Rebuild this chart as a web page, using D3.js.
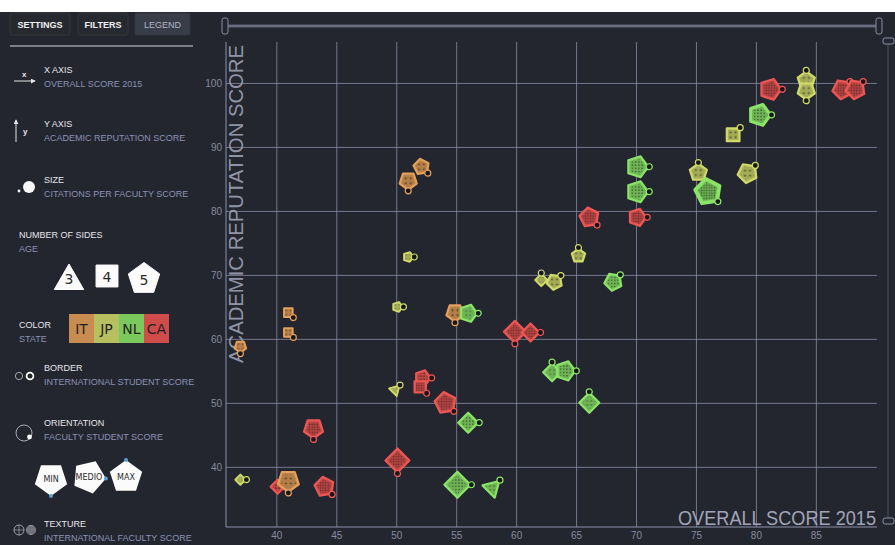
<!DOCTYPE html>
<html>
<head>
<meta charset="utf-8">
<script src="https://cdnjs.cloudflare.com/ajax/libs/d3/7.8.5/d3.min.js"></script>
<style>
  html, body { margin: 0; padding: 0; background: #ffffff; }
  svg { display: block; font-family: "Liberation Sans", Arial, sans-serif; }
</style>
</head>
<body>
<div id="chart"></div>
<script>
// ############## data ##############
var states = ['IT', 'JP', 'NL', 'CA'];
var stateColors = ['#c98c50', '#b7c05e', '#7bc95c', '#d04c4a'];

var overallScore   = [51.0, 52.1, 51.0, 50.1, 41.0, 41.0, 37.0, 54.9, 56.0, 52.2, 52.0, 49.9, 54.1, 56.0, 43.1,
                      50.1, 37.0, 40.1, 41.0, 44.0, 55.1, 59.9, 61.2, 63.0, 64.1, 66.1, 58.0, 62.1, 63.2, 65.2,
                      68.1, 66.1, 70.1, 70.1, 70.1, 75.2, 76.0, 79.3, 78.1, 80.3, 81.2, 84.2, 84.2, 87.2, 88.3];
var academicScore  = [84.7, 86.9, 72.8, 65.0, 64.1, 61.0, 58.8, 64.1, 64.0, 53.9, 52.5, 52.0, 50.0, 46.9, 46.0,
                      41.0, 38.0, 36.9, 37.8, 36.9, 37.2, 61.1, 61.0, 54.8, 55.0, 50.0, 36.7, 69.2, 68.9, 73.0,
                      68.9, 79.0, 79.0, 83.0, 86.9, 86.0, 83.0, 85.9, 91.9, 95.0, 99.0, 100.4, 98.8, 99.0, 99.0];
var ageSides       = [5, 5, 5, 5, 4, 4, 5, 5, 5, 5, 4, 3, 5, 4, 5,
                      4, 4, 4, 5, 5, 4, 4, 4, 4, 5, 4, 3, 4, 5, 5,
                      5, 5, 5, 5, 5, 5, 5, 5, 4, 5, 5, 5, 5, 5, 5];
var stateOf        = ['IT', 'IT', 'JP', 'JP', 'IT', 'IT', 'IT', 'IT', 'NL', 'CA', 'CA', 'JP', 'CA', 'NL', 'CA',
                      'CA', 'JP', 'CA', 'IT', 'CA', 'NL', 'CA', 'CA', 'NL', 'NL', 'NL', 'NL', 'JP', 'JP', 'JP',
                      'NL', 'CA', 'CA', 'NL', 'NL', 'JP', 'NL', 'JP', 'JP', 'NL', 'CA', 'JP', 'JP', 'CA', 'CA'];
var citationsScore = [50, 40, 10, 10, 20, 20, 20, 50, 50, 40, 40, 20, 70, 60, 60,
                      80, 10, 30, 70, 60, 90, 70, 50, 50, 60, 60, 60, 20, 40, 30,
                      50, 60, 50, 70, 70, 50, 90, 60, 50, 70, 70, 50, 50, 60, 60];
var facultyStudent = [0, 25, 50, 50, 25, 25, 0, 0, 50, 50, 25, 75, 25, 50, 0,
                      0, 50, 50, 0, 25, 50, 0, 50, 100, 50, 100, 75, 100, 75, 100,
                      75, 25, 50, 50, 50, 100, 25, 75, 75, 50, 50, 100, 0, 75, 75];
var intlStudent    = [40, 40, 40, 40, 40, 40, 40, 40, 40, 40, 40, 40, 40, 40, 40,
                      40, 40, 40, 40, 40, 45, 40, 40, 40, 40, 40, 40, 40, 40, 40,
                      40, 40, 40, 40, 40, 40, 95, 40, 40, 70, 40, 40, 40, 40, 40];
var intlFaculty    = [20, 20, 20, 20, 20, 20, 20, 25, 50, 60, 80, 20, 90, 60, 80,
                      90, 20, 60, 25, 85, 70, 85, 85, 50, 60, 40, 40, 20, 20, 20,
                      70, 80, 80, 60, 60, 25, 90, 25, 25, 75, 85, 25, 25, 85, 85];

var xTicks = [40, 45, 50, 55, 60, 65, 70, 75, 80, 85];
var yTicks = [40, 50, 60, 70, 80, 90, 100];

var attrs = {
  width: 895,
  height: 545,
  bg: '#24262f',
  plotLeft: 226,
  plotRight: 877,
  plotTop: 42,
  plotBottom: 527,
  gridColor: '#8d91aa',
  titleColor: '#e4e5ea',
  subColor: '#8b91b3',
  font: '"Liberation Sans", Arial, sans-serif'
};

var points = overallScore.map(function(d, i) {
  return {
    overall: d,
    academic: academicScore[i],
    sides: ageSides[i],
    state: stateOf[i],
    citations: citationsScore[i],
    faculty: facultyStudent[i],
    student: intlStudent[i],
    intlFac: intlFaculty[i]
  };
});

// ############## scales ##############
var x = d3.scaleLinear().domain([35.8, 90.1]).range([attrs.plotLeft, attrs.plotRight]);
var y = d3.scaleLinear().domain([30.6, 106.4]).range([attrs.plotBottom, attrs.plotTop]);
var color = d3.scaleOrdinal().domain(states).range(stateColors);
var radius = d3.scaleLinear().domain([0, 100]).range([4, 14]);
var angle = d3.scaleLinear().domain([0, 100]).range([180, 0]);       // min = bottom, max = top
var border = d3.scaleLinear().domain([0, 100]).range([1, 3.8]);
var spacing = d3.scaleQuantize().domain([0, 100]).range([6, 5, 4, 3.2, 2.6]);

var svg = d3.select('#chart').append('svg')
  .attr('width', attrs.width)
  .attr('height', attrs.height);

svg.append('rect').attr('width', attrs.width).attr('height', attrs.height).attr('fill', '#ffffff');
svg.append('rect').attr('y', 12).attr('width', attrs.width).attr('height', attrs.height - 12).attr('fill', attrs.bg);

var defs = svg.append('defs');

// polygon helper: vertex 0 sits at `a` degrees (clockwise from top)
function polyPoints(n, r, a) {
  var pts = [];
  for (var k = 0; k < n; k++) {
    var t = (a + k * 360 / n) * Math.PI / 180;
    pts.push([r * Math.sin(t), -r * Math.cos(t)]);
  }
  return pts;
}
function polyString(n, r, a) {
  return polyPoints(n, r, a).map(function(p) { return p[0].toFixed(2) + ',' + p[1].toFixed(2); }).join(' ');
}

// texture patterns
spacing.range().forEach(function(s, i) {
  var p = defs.append('pattern')
    .attr('id', 'tex' + i)
    .attr('width', s).attr('height', s)
    .attr('patternUnits', 'userSpaceOnUse');
  p.append('circle').attr('cx', s / 2).attr('cy', s / 2).attr('r', s > 4 ? 1.1 : 0.8).attr('fill', 'rgba(20,20,25,0.55)');
});

// ############## slider controls ##############
var ctrl = svg.append('g').attr('stroke', '#8a8ea6').attr('fill', attrs.bg);
ctrl.append('line').attr('x1', 227).attr('x2', 880).attr('y1', 26).attr('y2', 26).attr('stroke-width', 2.5);
ctrl.append('line').attr('x1', 227).attr('x2', 880).attr('y1', 26).attr('y2', 26).attr('stroke', attrs.bg).attr('stroke-width', 0.6);
[225, 879].forEach(function(hx) {
  ctrl.append('rect').attr('x', hx - 3).attr('y', 18).attr('width', 6).attr('height', 16).attr('rx', 2);
});
ctrl.append('line').attr('x1', 888).attr('x2', 888).attr('y1', 44).attr('y2', 520).attr('stroke-width', 0.8).attr('opacity', 0.5);
[38, 518].forEach(function(hy) {
  ctrl.append('rect').attr('x', 883).attr('y', hy).attr('width', 11).attr('height', 6).attr('rx', 2);
});

// ############## grid + axes ##############
var plot = svg.append('g');

var xAxis = plot.append('g')
  .attr('transform', 'translate(0,' + attrs.plotBottom + ')')
  .call(d3.axisBottom(x).tickValues(xTicks).tickSize(-(attrs.plotBottom - attrs.plotTop)).tickPadding(5));
var yAxis = plot.append('g')
  .attr('transform', 'translate(' + attrs.plotLeft + ',0)')
  .call(d3.axisLeft(y).tickValues(yTicks).tickSize(-(attrs.plotRight - attrs.plotLeft)).tickPadding(4));

[xAxis, yAxis].forEach(function(ax) {
  ax.select('.domain').attr('stroke', attrs.gridColor).attr('stroke-width', 1);
  ax.selectAll('.tick line').attr('stroke', attrs.gridColor).attr('stroke-opacity', 0.75);
  ax.selectAll('.tick text').attr('fill', '#878aa0').attr('font-size', 10).attr('font-family', attrs.font);
});
yAxis.select('.domain').attr('d', 'M0,' + attrs.plotTop + 'V' + attrs.plotBottom);
xAxis.select('.domain').attr('d', 'M' + attrs.plotLeft + ',0H' + attrs.plotRight);

// axis titles
plot.append('text')
  .attr('transform', 'translate(243,363) rotate(-90)')
  .attr('font-size', 20)
  .attr('textLength', 318)
  .attr('lengthAdjust', 'spacingAndGlyphs')
  .attr('fill', '#a0a4b8')
  .attr('fill-opacity', 0.9)
  .text('ACADEMIC REPUTATION SCORE');

plot.append('text')
  .attr('x', 876).attr('y', 525)
  .attr('text-anchor', 'end')
  .attr('font-size', 20)
  .attr('textLength', 198)
  .attr('lengthAdjust', 'spacingAndGlyphs')
  .attr('fill', '#a0a4b8')
  .text('OVERALL SCORE 2015');

// ############## marks ##############
var marks = plot.append('g').selectAll('g.mark').data(points).enter().append('g')
  .attr('class', 'mark')
  .attr('transform', function(d) { return 'translate(' + x(d.overall) + ',' + y(d.academic) + ')'; });

marks.append('polygon')
  .attr('points', function(d) { return polyString(d.sides, radius(d.citations), angle(d.faculty)); })
  .attr('fill', function(d) { return color(d.state); })
  .attr('fill-opacity', 0.92)
  .attr('stroke', function(d) { return d3.color(color(d.state)).brighter(0.35); })
  .attr('stroke-width', function(d) { return border(d.student); })
  .attr('stroke-linejoin', 'round');

marks.append('polygon')
  .attr('points', function(d) { return polyString(d.sides, radius(d.citations) * 0.74, angle(d.faculty)); })
  .attr('fill', function(d) { return d3.color(color(d.state)).darker(0.4); })
  .attr('fill-opacity', 0.6);

marks.append('polygon')
  .attr('points', function(d) { return polyString(d.sides, radius(d.citations) * 0.74, angle(d.faculty)); })
  .attr('fill', function(d) { return 'url(#tex' + spacing.range().indexOf(spacing(d.intlFac)) + ')'; });

marks.append('circle')
  .attr('cx', function(d) { return polyPoints(d.sides, radius(d.citations) + 1, angle(d.faculty))[0][0]; })
  .attr('cy', function(d) { return polyPoints(d.sides, radius(d.citations) + 1, angle(d.faculty))[0][1]; })
  .attr('r', 3)
  .attr('fill', '#16171c')
  .attr('stroke', function(d) { return d3.color(color(d.state)).brighter(0.4); })
  .attr('stroke-width', 1.2);

// ############## left legend panel ##############
var panel = svg.append('g').attr('font-family', attrs.font);

var buttons = [
  { label: 'SETTINGS', x: 10, w: 60, active: false },
  { label: 'FILTERS', x: 78, w: 50, active: false },
  { label: 'LEGEND', x: 135, w: 55, active: true }
];
buttons.forEach(function(b) {
  panel.append('rect').attr('x', b.x).attr('y', 13).attr('width', b.w).attr('height', 22).attr('rx', 2)
    .attr('fill', b.active ? '#393c49' : '#272930').attr('stroke', '#34363f');
  panel.append('text').attr('x', b.x + b.w / 2).attr('y', 27.5).attr('text-anchor', 'middle')
    .attr('font-size', 9).attr('font-weight', b.active ? 'normal' : 'bold')
    .attr('fill', b.active ? '#b2b5c3' : '#f0f0f3').text(b.label);
});
panel.append('line').attr('x1', 10).attr('x2', 193).attr('y1', 46).attr('y2', 46).attr('stroke', '#9a9ca8').attr('stroke-width', 1.5);

function legendText(tx, ty, title, sub) {
  panel.append('text').attr('x', tx).attr('y', ty).attr('font-size', 9).attr('fill', attrs.titleColor).text(title);
  panel.append('text').attr('x', tx).attr('y', ty + 13.5).attr('font-size', 9).attr('fill', attrs.subColor).text(sub);
}

legendText(44, 73, 'X AXIS', 'OVERALL SCORE 2015');
legendText(44, 127, 'Y AXIS', 'ACADEMIC REPUTATION SCORE');
legendText(44, 183, 'SIZE', 'CITATIONS PER FACULTY SCORE');
legendText(19, 238, 'NUMBER OF SIDES', 'AGE');
legendText(19, 328, 'COLOR', 'STATE');
legendText(44, 371, 'BORDER', 'INTERNATIONAL STUDENT SCORE');
legendText(44, 426, 'ORIENTATION', 'FACULTY STUDENT SCORE');
legendText(44, 527, 'TEXTURE', 'INTERNATIONAL FACULTY SCORE');

// axis icons
defs.append('marker').attr('id', 'arrow').attr('viewBox', '0 0 6 6').attr('refX', 5).attr('refY', 3)
  .attr('markerWidth', 5).attr('markerHeight', 5).attr('orient', 'auto')
  .append('path').attr('d', 'M0,0L6,3L0,6Z').attr('fill', '#e4e5ea');
panel.append('line').attr('x1', 14).attr('x2', 35).attr('y1', 81).attr('y2', 81)
  .attr('stroke', '#e4e5ea').attr('stroke-width', 1).attr('marker-end', 'url(#arrow)');
panel.append('text').attr('x', 22).attr('y', 77).attr('font-size', 8).attr('font-weight', 'bold').attr('fill', '#e4e5ea').text('x');
panel.append('line').attr('x1', 16).attr('x2', 16).attr('y1', 142).attr('y2', 120)
  .attr('stroke', '#e4e5ea').attr('stroke-width', 1).attr('marker-end', 'url(#arrow)');
panel.append('text').attr('x', 23).attr('y', 134).attr('font-size', 8).attr('font-weight', 'bold').attr('fill', '#e4e5ea').text('y');

// size icon
panel.append('circle').attr('cx', 19).attr('cy', 191).attr('r', 1.4).attr('fill', '#f0f0f0');
panel.append('circle').attr('cx', 29).attr('cy', 187).attr('r', 6).attr('fill', '#f7f7f7');

// sides
var sideShapes = [{ n: 3, cx: 69, cy: 281, r: 17, a: 0, ty: 284 }, { n: 4, cx: 107, cy: 276, r: 15.5, a: 45, ty: 282 },
                  { n: 5, cx: 144, cy: 279, r: 16.5, a: 0, ty: 285 }];
sideShapes.forEach(function(s) {
  panel.append('polygon').attr('transform', 'translate(' + s.cx + ',' + s.cy + ')')
    .attr('points', polyString(s.n, s.r, s.a)).attr('fill', '#fbfbfb').attr('stroke', '#fbfbfb').attr('stroke-linejoin', 'round');
  panel.append('text').attr('x', s.cx).attr('y', s.ty).attr('text-anchor', 'middle')
    .attr('font-family', '"DejaVu Sans", sans-serif').attr('font-size', 14).attr('fill', '#2a2a2a').text(s.n);
});

// colors
states.forEach(function(st, i) {
  panel.append('rect').attr('x', 69 + i * 25).attr('y', 314).attr('width', 25).attr('height', 29).attr('fill', color(st));
  panel.append('text').attr('x', 81.5 + i * 25).attr('y', 334).attr('text-anchor', 'middle')
    .attr('font-family', '"DejaVu Sans", sans-serif').attr('font-size', 14).attr('fill', '#222222').text(st);
});

// border icon
panel.append('circle').attr('cx', 19).attr('cy', 376).attr('r', 3.6).attr('fill', 'none').attr('stroke', '#c9cad2').attr('stroke-width', 0.8);
panel.append('circle').attr('cx', 30).attr('cy', 376).attr('r', 3.4).attr('fill', 'none').attr('stroke', '#ffffff').attr('stroke-width', 1.8);

// orientation icon
panel.append('circle').attr('cx', 24).attr('cy', 433).attr('r', 8).attr('fill', 'none').attr('stroke', '#c9cad2').attr('stroke-width', 0.8);
panel.append('circle').attr('cx', 29.5).attr('cy', 437).attr('r', 2.4).attr('fill', '#ffffff');

var orient = [{ label: 'MIN', cx: 51, cy: 479, a: 180 }, { label: 'MEDIO', cx: 89, cy: 477, a: 95 }, { label: 'MAX', cx: 126, cy: 477, a: 0 }];
orient.forEach(function(o) {
  var g = panel.append('g').attr('transform', 'translate(' + o.cx + ',' + o.cy + ')');
  g.append('polygon').attr('points', polyString(5, 17, o.a)).attr('fill', '#fbfbfb');
  var v = polyPoints(5, 17, o.a)[0];
  g.append('circle').attr('cx', v[0]).attr('cy', v[1]).attr('r', 2).attr('fill', '#5aa0d0');
  g.append('text').attr('y', 3).attr('text-anchor', 'middle').attr('font-family', '"DejaVu Sans", sans-serif')
    .attr('font-size', 8).attr('fill', '#2a2a2a').text(o.label);
});

// texture icon
panel.append('circle').attr('cx', 19).attr('cy', 530).attr('r', 5).attr('fill', 'none').attr('stroke', '#b9bac4').attr('stroke-width', 0.8);
panel.append('path').attr('d', 'M14,530H24M19,525V535').attr('stroke', '#b9bac4').attr('stroke-width', 0.6);
panel.append('circle').attr('cx', 31).attr('cy', 530).attr('r', 5).attr('fill', '#9d9ea8');
[527, 529, 531, 533].forEach(function(ly) {
  panel.append('line').attr('x1', 26.5).attr('x2', 35.5).attr('y1', ly).attr('y2', ly).attr('stroke', attrs.bg).attr('stroke-width', 0.7);
});
</script>
</body>
</html>
